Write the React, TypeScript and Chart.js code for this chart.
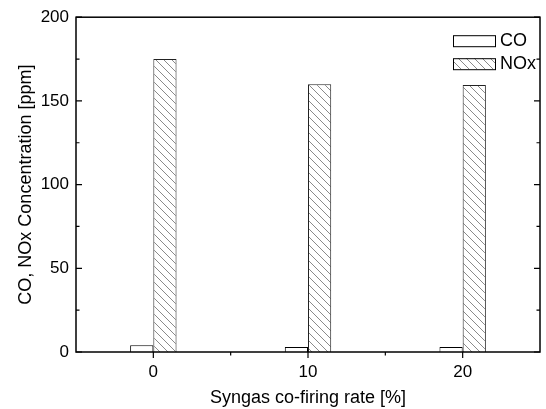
import React, { useEffect, useRef } from 'react';
import { Chart, registerables } from 'chart.js';
Chart.register(...registerables);

const rates = [0, 10, 20];
const coValues = [4, 3, 3];
const noxValues = [175, 160, 159.5];
const seriesNames = ['CO', 'NOx'];
const xTicks = [0, 10, 20];
const xMinorTicks = [5, 15];
const yTicks = [0, 50, 100, 150, 200];
const yMinorTicks = [25, 75, 125, 175];
const xTitle = 'Syngas co-firing rate [%]';
const yTitle = 'CO, NOx Concentration [ppm]';

const FONT = '"Liberation Sans", Arial, sans-serif';

function makeHatch(): CanvasPattern {
  const s = 8;
  const c = document.createElement('canvas');
  c.width = s;
  c.height = s;
  const g = c.getContext('2d')!;
  g.fillStyle = '#ffffff';
  g.fillRect(0, 0, s, s);
  g.strokeStyle = '#8a8a8a';
  g.lineWidth = 1;
  g.beginPath();
  g.moveTo(-1, -1);
  g.lineTo(s + 1, s + 1);
  g.moveTo(-1, s - 1);
  g.lineTo(1, s + 1);
  g.moveTo(s - 1, -1);
  g.lineTo(s + 1, 1);
  g.stroke();
  return g.createPattern(c, 'repeat')!;
}

export default function App() {
  const ref = useRef<HTMLCanvasElement>(null);
  useEffect(() => {
    const canvas = ref.current!;
    const hatch = makeHatch();
    const fills = ['#ffffff', hatch];

    const axesPlugin = {
      id: 'axesFrame',
      afterDatasetsDraw(chart: any) {
        const { ctx, chartArea: a, scales } = chart;
        const xs = scales.x;
        const ys = scales.y;
        ctx.save();
        ctx.strokeStyle = '#000';
        ctx.lineWidth = 1.5;
        ctx.strokeRect(a.left, a.top, a.right - a.left, a.bottom - a.top);
        ctx.lineWidth = 1.2;
        ctx.beginPath();
        for (const v of yTicks) {
          const p = ys.getPixelForValue(v);
          ctx.moveTo(a.left, p); ctx.lineTo(a.left + 6, p);
          ctx.moveTo(a.right, p); ctx.lineTo(a.right - 6, p);
        }
        for (const v of yMinorTicks) {
          const p = ys.getPixelForValue(v);
          ctx.moveTo(a.left, p); ctx.lineTo(a.left + 3.5, p);
          ctx.moveTo(a.right, p); ctx.lineTo(a.right - 3.5, p);
        }
        for (const v of xTicks) {
          const p = xs.getPixelForValue(v);
          ctx.moveTo(p, a.bottom); ctx.lineTo(p, a.bottom + 6);
        }
        for (const v of xMinorTicks) {
          const p = xs.getPixelForValue(v);
          ctx.moveTo(p, a.bottom); ctx.lineTo(p, a.bottom + 3.5);
        }
        ctx.stroke();

        // legend
        ctx.font = `18px ${FONT}`;
        ctx.textBaseline = 'middle';
        ctx.textAlign = 'left';
        const bx = a.right - 87;
        seriesNames.forEach((name, i) => {
          const by = a.top + 18 + i * 23;
          ctx.fillStyle = fills[i] as any;
          ctx.fillRect(bx, by, 42, 11);
          ctx.lineWidth = 1;
          ctx.strokeStyle = '#000';
          ctx.strokeRect(bx + 0.5, by + 0.5, 42, 11);
          ctx.fillStyle = '#000';
          ctx.fillText(name, bx + 47, by + 6);
        });
        ctx.restore();
      },
    };

    const chart = new Chart(canvas, {
      type: 'bar',
      data: {
        datasets: [
          {
            label: seriesNames[0],
            data: rates.map((r, i) => ({ x: r, y: coValues[i] })),
            backgroundColor: fills[0] as any,
            borderColor: '#000',
            borderWidth: 1,
          },
          {
            label: seriesNames[1],
            data: rates.map((r, i) => ({ x: r, y: noxValues[i] })),
            backgroundColor: fills[1] as any,
            borderColor: '#222',
            borderWidth: 1,
          },
        ],
      },
      options: {
        animation: false,
        responsive: false,
        devicePixelRatio: 1,
        categoryPercentage: 0.3,
        barPercentage: 1,
        layout: { padding: { left: 0, right: 6, top: 14, bottom: 0 } },
        plugins: {
          legend: { display: false },
          tooltip: { enabled: false },
        },
        scales: {
          x: {
            type: 'linear',
            min: -5,
            max: 25,
            offset: false,
            grid: { display: false, drawTicks: false, offset: false },
            border: { display: false },
            afterBuildTicks: (s: any) => {
              s.ticks = xTicks.map((v) => ({ value: v }));
            },
            afterFit: (s: any) => {
              s.height = 57;
            },
            ticks: {
              padding: 10,
              color: '#000',
              font: { family: FONT, size: 17 },
              maxRotation: 0,
            },
            title: {
              display: true,
              text: xTitle,
              color: '#000',
              font: { family: FONT, size: 18 },
              padding: { top: 0, bottom: 0 },
            },
          },
          y: {
            min: 0,
            max: 200,
            grid: { display: false, drawTicks: false },
            border: { display: false },
            afterBuildTicks: (s: any) => {
              s.ticks = yTicks.map((v) => ({ value: v }));
            },
            afterFit: (s: any) => {
              s.width = 76;
            },
            ticks: {
              padding: 7,
              color: '#000',
              font: { family: FONT, size: 17 },
            },
            title: {
              display: true,
              text: yTitle,
              color: '#000',
              font: { family: FONT, size: 18 },
              padding: { top: 15, bottom: 0 },
            },
          },
        },
      },
      plugins: [axesPlugin],
    } as any);
    return () => chart.destroy();
  }, []);

  return (
    <div style={{ position: 'fixed', left: 0, top: 0, width: 546, height: 409, background: '#fff' }}>
      <canvas ref={ref} width={546} height={409} style={{ display: 'block' }} />
    </div>
  );
}
